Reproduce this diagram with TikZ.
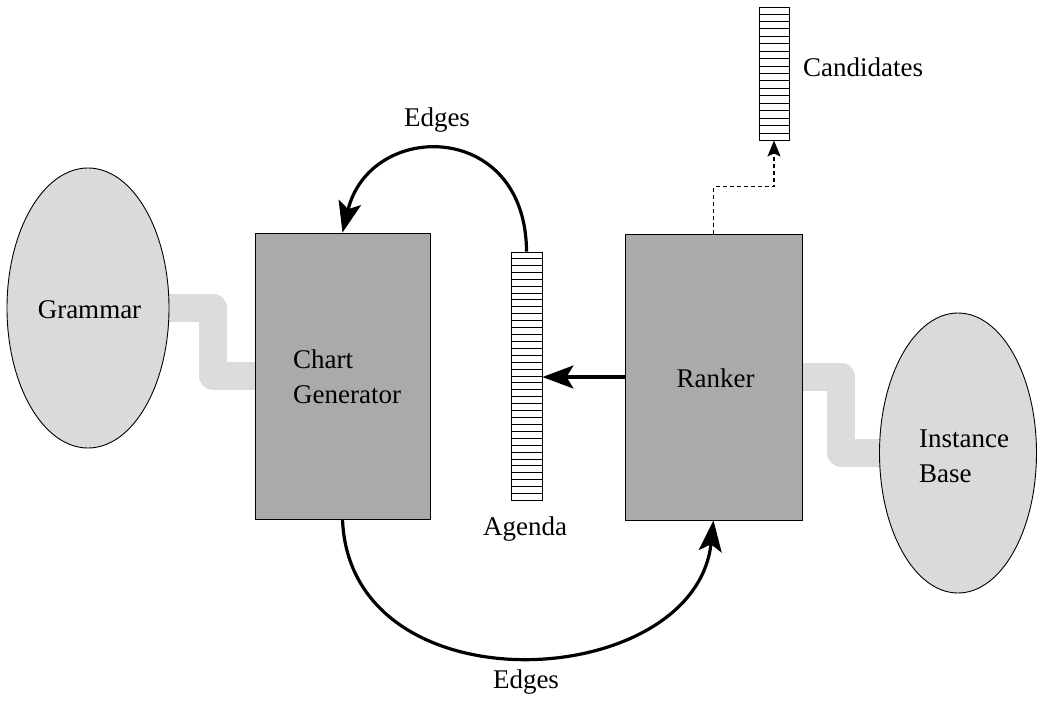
\documentclass[tikz,border=0pt]{standalone}
\usepackage{fontspec}
\setmainfont{Liberation Serif}
\usetikzlibrary{shapes.geometric,arrows.meta,backgrounds,calc}

\definecolor{boxgray}{RGB}{170,170,170}
\definecolor{ovalgray}{RGB}{218,218,218}
\definecolor{bandgray}{RGB}{220,220,220}

\tikzset{
  module/.style={draw=black, line width=0.9pt, fill=boxgray, rectangle, inner sep=0pt},
  store/.style={draw=black, line width=0.9pt, fill=ovalgray, ellipse, inner sep=0pt},
  queue/.style={draw=black, line width=0.9pt, fill=white, rectangle, inner sep=0pt},
  band/.style={draw=bandgray, line width=28pt, line join=round},
  flow/.style={draw=black, line width=3.2pt, -{Stealth[length=31pt, width=23pt, inset=7pt]}},
  result/.style={draw=black, line width=1.3pt, dash pattern=on 4pt off 3pt,
    -{Stealth[length=16pt, width=13pt, inset=3pt]}},
  label/.style={inner sep=0pt, font=\fontsize{27}{35}\selectfont},
}

\begin{document}
\begin{tikzpicture}[x=1pt, y=-1pt]
\useasboundingbox (0,0) rectangle (1039,701);

% knowledge sources
\node[store, minimum width=162pt, minimum height=280pt] (grammar) at (88,308) {};
\node[store, minimum width=157pt, minimum height=280pt] (inst) at (958,453) {};

% processing modules
\node[module, minimum width=175pt, minimum height=286pt] (chart) at (342.5,376) {};
\node[module, minimum width=177pt, minimum height=286pt] (ranker) at (713.5,377) {};

% queues
\node[queue, minimum width=31pt, minimum height=248pt] (agenda) at (526.5,376) {};
\node[queue, minimum width=30pt, minimum height=133pt] (cand) at (774,73.5) {};
\foreach \i in {1,...,35}
  \draw[line width=0.9pt] ($(agenda.north west)!\i/36!(agenda.south west)$) -- ($(agenda.north east)!\i/36!(agenda.south east)$);
\foreach \i in {1,...,17}
  \draw[line width=0.9pt] ($(cand.north west)!\i/18!(cand.south west)$) -- ($(cand.north east)!\i/18!(cand.south east)$);

% links between knowledge sources and modules
\begin{scope}[on background layer]
  \draw[band] (grammar.east) -- ++(44,0) |- (chart.west);
  \draw[band] (ranker.east) -- ++(39,0) |- (inst.west);
\end{scope}

% texts (base anchor of a two-line label sits on its last line)
\node[label, anchor=base] (tgram) at (89.5,318) {Grammar};
\node[label, anchor=base west, align=left] (tchart) at (293,403) {Chart\\Generator};
\node[label, anchor=base] (trank) at (715.5,387) {Ranker};
\node[label, anchor=base west, align=left] (tinst) at (919,482) {Instance\\Base};
\node[label, anchor=base] (tagenda) at (525,535) {Agenda};
\node[label, anchor=base west] (tcand) at (803,77) {Candidates};
\node[label, anchor=base] (tedgetop) at (437,126) {Edges};
\node[label, anchor=base] (tedgebot) at (526,688) {Edges};

% data flow
\draw[flow] (agenda.north) .. controls +(-0.5,-132) and +(27.5,-113) .. (chart.north);
\draw[flow] (chart.south) .. controls +(7.5,193) and +(-18.5,172) .. (ranker.south);
\draw[flow] (ranker.west) -- (ranker.west -| agenda.east);
\draw[result] (ranker.north) -- ++(0,-47) -| (cand.south);
\end{tikzpicture}
\end{document}
